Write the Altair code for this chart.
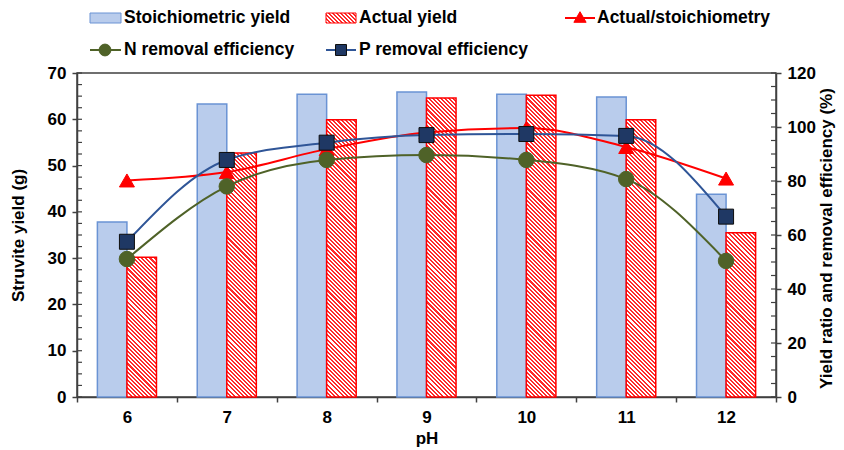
import math
import altair as alt
import pandas as pd

# ---------------- data ----------------
ph = [6, 7, 8, 9, 10, 11, 12]
stoich_yield = [37.8, 63.3, 65.4, 65.9, 65.4, 64.8, 43.8]
actual_yield = [30.2, 52.7, 59.9, 64.6, 65.2, 59.9, 35.5]
yield_ratio = [80.2, 83.3, 91.8, 98.0, 99.6, 92.6, 80.9]
n_removal = [51.1, 78.0, 87.8, 89.6, 87.8, 80.7, 50.4]
p_removal = [57.5, 87.8, 94.2, 97.0, 97.4, 96.7, 66.8]

bar_series = ["Stoichiometric yield", "Actual yield"]
left_ticks = [0, 10, 20, 30, 40, 50, 60, 70]
right_ticks = [0, 20, 40, 60, 80, 100, 120]
left_minor = [i * 2.5 for i in range(29)]
right_minor = [i * 5 for i in range(25)]

# ---------------- style ----------------
W, H = 699, 324
FONT = "Liberation Sans"
AXIS_C = "#404040"
BLUE_FILL = "#B9CCEC"
BLUE_EDGE = "#6A93D4"
RED = "#FF0000"
RED_STRIPE = "#FF2A2A"
GREEN = "#4F6228"
NAVY_LINE = "#2F5597"
NAVY_FILL = "#1F3864"
OFF_PAD = 0.69
BAR_W = W / len(ph) / (2 + 2 * OFF_PAD)


def hatch(w, h, period=2.9):
    a, b = 1.0 / h, 1.0 / w
    t = (a + b) / (a * a + b * b)
    n = max(1, round((w + h) / math.sqrt(2) / period))
    stops = []
    for i in range(n):
        stops += [
            {"offset": i / n, "color": RED_STRIPE},
            {"offset": (i + 0.5) / n, "color": RED_STRIPE},
            {"offset": (i + 0.5) / n, "color": "#FFFFFF"},
            {"offset": (i + 1) / n, "color": "#FFFFFF"},
        ]
    return {"gradient": "linear", "x1": 0, "y1": 1, "x2": t * a, "y2": 1 - t * b, "stops": stops}


bar_rows = []
for p, s, a in zip(ph, stoich_yield, actual_yield):
    bar_rows.append({"pH": p, "series": bar_series[0], "value": s, "paint": BLUE_FILL})
    bar_rows.append({"pH": p, "series": bar_series[1], "value": a,
                     "paint": hatch(BAR_W, a * H / 70.0)})

x_scale = alt.Scale(paddingInner=0, paddingOuter=0)
y_left_scale = alt.Scale(domain=[0, 70], nice=False)
y_right_scale = alt.Scale(domain=[0, 120], nice=False)

x_axis = alt.Axis(tickBand="extent", labelAngle=0, tickSize=5, labelPadding=7,
                  title="pH", titleX=W / 2, titleY=41, titleAlign="center",
                  titleBaseline="middle")
y_left_axis = alt.Axis(values=left_ticks, tickSize=5, labelPadding=6,
                       title="Struvite yield (g)", titleX=-59, titleY=H / 2,
                       titleAngle=270, titleAlign="center", titleBaseline="middle")
y_right_axis = alt.Axis(orient="right", values=right_ticks, tickSize=5, labelPadding=6,
                        title="Yield ratio and removal efficiency (%)", titleX=50,
                        titleY=H / 2 + 3, titleAngle=270, titleAlign="center",
                        titleBaseline="middle")


def xenc():
    return alt.X("pH:O", scale=x_scale, axis=x_axis, title="pH")


def yleft():
    return alt.Y("value:Q", scale=y_left_scale, axis=y_left_axis,
                 title="Struvite yield (g)", stack=None)


def yright():
    return alt.Y("value:Q", scale=y_right_scale, axis=y_right_axis,
                 title="Yield ratio and removal efficiency (%)")


bars = alt.Chart(alt.Data(values=bar_rows)).mark_bar(strokeWidth=1.5).encode(
    x=xenc(),
    xOffset=alt.XOffset("series:N", scale=alt.Scale(domain=bar_series, paddingInner=0,
                                                    paddingOuter=OFF_PAD)),
    y=yleft(),
    fill=alt.Fill("paint:N", scale=None),
    stroke=alt.Stroke("series:N", scale=alt.Scale(domain=bar_series, range=[BLUE_EDGE, RED]),
                      legend=None),
)

minor_l = alt.Chart(pd.DataFrame({"value": left_minor})).mark_rule(
    color=AXIS_C, strokeWidth=1.2).encode(y=yleft(), x=alt.value(0), x2=alt.value(5))

left_layer = alt.layer(bars, minor_l)


def series_layers(vals, color, shape, size, fill, stroke):
    df = pd.DataFrame({"pH": ph, "value": vals})
    base = alt.Chart(df).encode(x=xenc(), y=yright())
    line = base.mark_line(color=color, strokeWidth=2, interpolate="monotone")
    pts = base.mark_point(shape=shape, size=size, filled=True, fill=fill, stroke=stroke,
                          strokeWidth=1, opacity=1)
    return [line, pts]


right_parts = []
right_parts += series_layers(yield_ratio, RED, "triangle-up", 225, RED, RED)
right_parts += series_layers(n_removal, GREEN, "circle", 240, GREEN, GREEN)
right_parts += series_layers(p_removal, NAVY_LINE, "square", 225, NAVY_FILL, "#0D0D0D")

minor_r = alt.Chart(pd.DataFrame({"value": right_minor})).mark_rule(
    color=AXIS_C, strokeWidth=1.2).encode(y=yright(), x=alt.value(W - 5), x2=alt.value(W))
right_parts.append(minor_r)

right_layer = alt.layer(*right_parts)

# ---------------- custom legend ----------------
dummy = pd.DataFrame({"d": [0]})
R1, R2 = -55, -23


def ltext(x, y, s):
    return alt.Chart(dummy).mark_text(font=FONT, fontSize=17.5, fontWeight="bold",
                                      align="left", baseline="middle", color="black").encode(
        x=alt.value(x), y=alt.value(y), text=alt.value(s))


def lrule(x1, x2, y, color):
    return alt.Chart(dummy).mark_rule(color=color, strokeWidth=2).encode(
        x=alt.value(x1), x2=alt.value(x2), y=alt.value(y))


def lpoint(x, y, shape, size, fill, stroke):
    return alt.Chart(dummy).mark_point(shape=shape, size=size, filled=True, fill=fill,
                                       stroke=stroke, strokeWidth=1, opacity=1).encode(
        x=alt.value(x), y=alt.value(y))


legend = [
    alt.Chart(dummy).mark_rect(fill=BLUE_FILL, stroke=BLUE_EDGE, strokeWidth=1).encode(
        x=alt.value(13), x2=alt.value(44), y=alt.value(R1 - 5), y2=alt.value(R1 + 5)),
    ltext(47, R1, "Stoichiometric yield"),
    alt.Chart(dummy).mark_rect(fill=hatch(30, 10), stroke=RED, strokeWidth=1).encode(
        x=alt.value(249), x2=alt.value(279), y=alt.value(R1 - 5), y2=alt.value(R1 + 5)),
    ltext(282, R1, "Actual yield"),
    lrule(488, 518, R1, RED),
    lpoint(503, R1 - 1, "triangle-up", 150, RED, RED),
    ltext(520, R1, "Actual/stoichiometry"),
    lrule(13, 44, R2, GREEN),
    lpoint(28, R2, "circle", 140, GREEN, GREEN),
    ltext(47, R2, "N removal efficiency"),
    lrule(249, 279, R2, NAVY_LINE),
    lpoint(264, R2, "square", 120, NAVY_FILL, "#0D0D0D"),
    ltext(282, R2, "P removal efficiency"),
]

chart = alt.layer(left_layer, right_layer, *legend).resolve_scale(
    y="independent"
).properties(
    width=W, height=H,
    padding={"left": 69, "top": 65, "right": 60, "bottom": 50},
    autosize=alt.AutoSizeParams(type="none"),
).configure_view(
    stroke=AXIS_C, strokeWidth=1.5
).configure_axis(
    labelFont=FONT, labelFontSize=17, labelFontWeight="bold", labelColor="#000000",
    titleFont=FONT, titleFontSize=17, titleFontWeight="bold", titleColor="#000000",
    domainColor=AXIS_C, tickColor=AXIS_C, domainWidth=1.5, tickWidth=1.5, grid=False,
)

chart.save("out.html", embed_options={"renderer": "svg", "actions": False})
